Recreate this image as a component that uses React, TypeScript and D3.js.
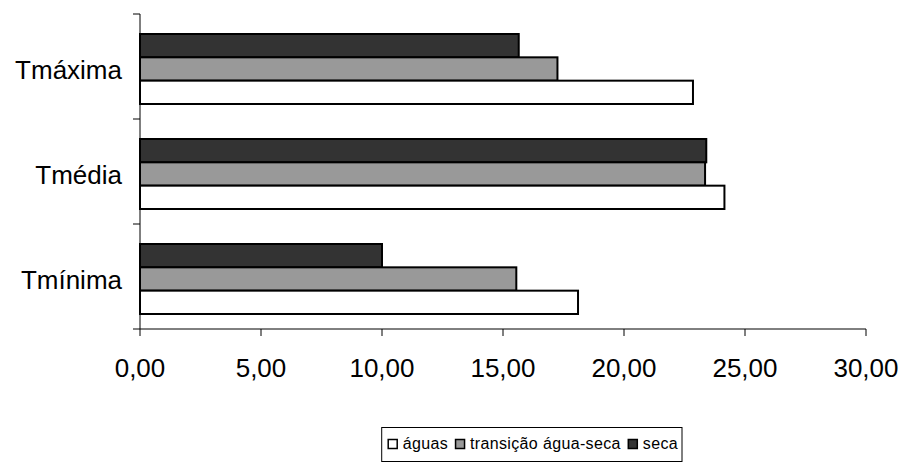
import React, { useEffect, useRef } from "react";
import * as d3 from "d3";

const categories = ["Tmáxima", "Tmédia", "Tmínima"];
const seriesNames = ["seca", "transição água-seca", "águas"];
const seca = [15.65, 23.4, 10.0];
const transicao = [17.25, 23.35, 15.55];
const aguas = [22.85, 24.15, 18.1];
const xTicks = [0, 5, 10, 15, 20, 25, 30];
const legendOrder = ["águas", "transição água-seca", "seca"];

const colors: Record<string, string> = {
  "seca": "#333333",
  "transição água-seca": "#999999",
  "águas": "#ffffff",
};

const FONT = "'Liberation Sans', Arial, sans-serif";

export default function App() {
  const ref = useRef<SVGSVGElement | null>(null);

  useEffect(() => {
    const svg = d3.select(ref.current!);
    svg.selectAll("*").remove();

    const left = 140, right = 866, top = 14, bottom = 329;
    const x = d3.scaleLinear().domain([0, 30]).range([left, right]);
    const y = d3.scaleBand<string>().domain(categories).range([top, bottom]).paddingInner(0).paddingOuter(0);
    const bw = y.bandwidth();
    const barH = bw / 4.5;
    const inner = d3.scaleBand<string>().domain(seriesNames).range([0, barH * 3]).padding(0);

    const valuesBy: Record<string, number[]> = {
      "seca": seca,
      "transição água-seca": transicao,
      "águas": aguas,
    };

    const g = svg.append("g");
    categories.forEach((c, ci) => {
      const y0 = (y(c) as number) + (bw - barH * 3) / 2 + 2.5;
      seriesNames.forEach((s) => {
        g.append("rect")
          .attr("x", x(0))
          .attr("y", y0 + (inner(s) as number))
          .attr("width", x(valuesBy[s][ci]) - x(0))
          .attr("height", inner.bandwidth())
          .attr("fill", colors[s])
          .attr("stroke", "#000")
          .attr("stroke-width", 2);
      });
    });

    g.append("line").attr("x1", left).attr("x2", left).attr("y1", top).attr("y2", bottom)
      .attr("stroke", "#000").attr("stroke-width", 1);
    const bounds = [top, ...categories.map((c) => (y(c) as number) + bw)];
    bounds.forEach((b) => {
      g.append("line").attr("x1", left - 7).attr("x2", left).attr("y1", b).attr("y2", b)
        .attr("stroke", "#000").attr("stroke-width", 1);
    });
    g.append("line").attr("x1", left).attr("x2", right).attr("y1", bottom).attr("y2", bottom)
      .attr("stroke", "#000").attr("stroke-width", 1);
    xTicks.forEach((t) => {
      g.append("line").attr("x1", x(t)).attr("x2", x(t)).attr("y1", bottom).attr("y2", bottom + 7)
        .attr("stroke", "#000").attr("stroke-width", 1);
      g.append("text").attr("x", x(t)).attr("y", 377)
        .attr("text-anchor", "middle")
        .attr("font-family", FONT).attr("font-size", 26)
        .text(d3.format(".2f")(t).replace(".", ","));
    });
    categories.forEach((c) => {
      g.append("text").attr("x", 122).attr("y", (y(c) as number) + bw / 2 + 12)
        .attr("text-anchor", "end")
        .attr("font-family", FONT).attr("font-size", 26)
        .text(c);
    });

    // legend
    const lg = svg.append("g");
    const fs = 16;
    let cx = 0;
    const items: { s: string; sx: number; tx: number }[] = [];
    const texts: any[] = [];
    legendOrder.forEach((s, i) => {
      const t = lg.append("text").attr("font-family", FONT).attr("font-size", fs)
        .attr("letter-spacing", 0.35).attr("y", 449).text(s);
      const sx = cx;
      const tx = cx + 15;
      const w = (t.node() as SVGTextElement).getComputedTextLength();
      items.push({ s, sx, tx });
      texts.push(t);
      cx = tx + w + (i < legendOrder.length - 1 ? 7 : 0);
    });
    const totalW = cx;
    const boxRight = 682;
    const padL = 6, padR = 4;
    const startX = boxRight - padR - totalW;
    texts.forEach((t, i) => t.attr("x", startX + items[i].tx));
    items.forEach((it) => {
      lg.append("rect").attr("x", startX + it.sx + 0.5).attr("y", 439.5).attr("width", 9).attr("height", 9)
        .attr("fill", colors[it.s]).attr("stroke", "#000").attr("stroke-width", 1.5);
    });
    lg.insert("rect", ":first-child")
      .attr("x", startX - padL).attr("y", 427.5)
      .attr("width", totalW + padL + padR).attr("height", 34)
      .attr("fill", "#fff").attr("stroke", "#000").attr("stroke-width", 1);
  }, []);

  return (
    <svg ref={ref} width={906} height={462} style={{ position: "absolute", left: 0, top: 0, background: "#fff" }} />
  );
}
